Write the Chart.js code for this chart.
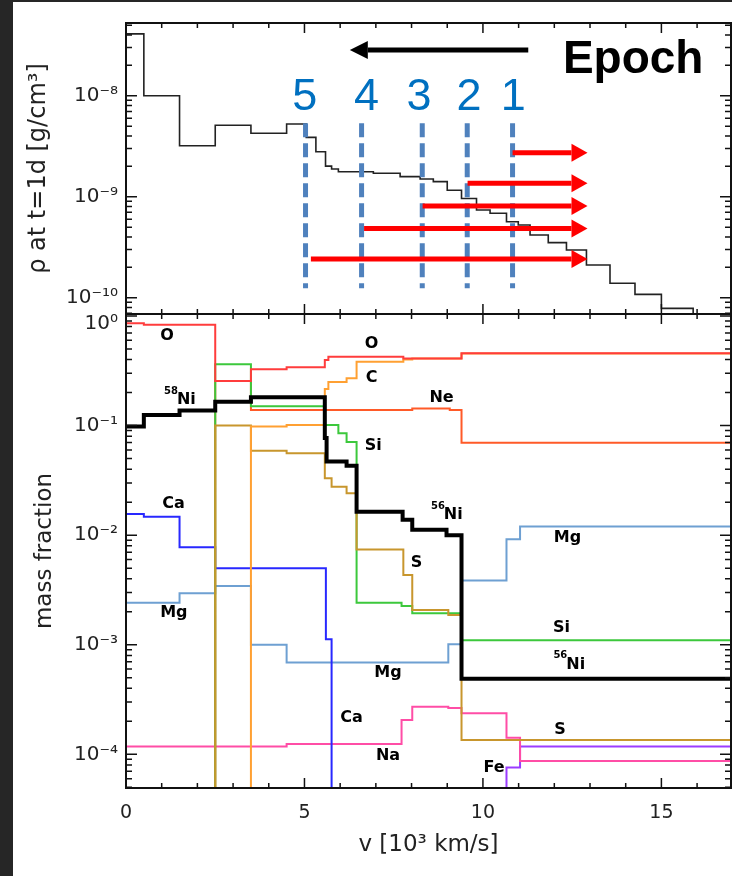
<!DOCTYPE html>
<html>
<head>
<meta charset="utf-8">
<script src="https://cdn.jsdelivr.net/npm/chart.js@4.4.1/dist/chart.umd.min.js"></script>
<style>
  html, body { margin: 0; padding: 0; width: 732px; height: 876px; overflow: hidden; background: #262626; }
  #sheet { position: absolute; left: 13px; top: 2px; width: 719px; height: 874px; background: #fff; }
  canvas { position: absolute; left: 0; }
  #densityChart { top: 0; }
  #massChart { top: 300px; }
</style>
</head>
<body>
<div id="sheet"></div>
<canvas id="densityChart" width="732" height="320"></canvas>
<canvas id="massChart" width="732" height="576"></canvas>
<script>
// axes
const velocityTicks = [0, 5, 10, 15];
const densityTicks = [1e-8, 1e-9, 1e-10];
const densityTickLabels = ['10⁻⁸', '10⁻⁹', '10⁻¹⁰'];
const massTicks = [1, 1e-1, 1e-2, 1e-3, 1e-4];
// top label sits just under the panel edge, as in the original
const massTickLabels = [['', '10⁰'], '10⁻¹', '10⁻²', '10⁻³', '10⁻⁴'];

// density at t=1d (step edges in 10^3 km/s, values in g/cm^3)
const densityEdges = [0, 0.5, 1.5, 2.5, 3.5, 4.5, 5.05, 5.32, 5.59, 5.76, 5.95, 6.93, 7.68, 8.24, 8.61, 9.0, 9.4, 9.82, 10.2, 10.66, 10.99, 11.32, 11.83, 12.34, 12.9, 13.56, 14.26, 15.0, 15.89, 16.95];
const densityValues = [4.1e-8, 1.0e-8, 3.2e-9, 5.1e-9, 4.25e-9, 5.25e-9, 3.87e-9, 2.79e-9, 2.01e-9, 1.88e-9, 1.77e-9, 1.71e-9, 1.58e-9, 1.5e-9, 1.41e-9, 1.16e-9, 9.6e-10, 7.4e-10, 6.85e-10, 5.65e-10, 5.25e-10, 4.18e-10, 3.51e-10, 2.97e-10, 2.11e-10, 1.39e-10, 1.08e-10, 7.85e-11, 5e-11];

// epochs
const epochNumbers = ['5', '4', '3', '2', '1'];
const epochNumberV = [5.01, 6.74, 8.21, 9.61, 10.85];
const epochLineV = [5.03, 6.60, 8.30, 9.56, 10.83];
const epochLineTop = 5.34e-9;
const epochLineBottom = 1.24e-10;
const arrowStart = [10.83, 9.57, 8.31, 6.67, 5.18];
const arrowLevel = [2.73e-9, 1.36e-9, 8.09e-10, 4.86e-10, 2.42e-10];
const arrowEnd = 12.93;

// mass fractions (step edges, values); 1e-8 = below the plotted range
const oEdges = [0, 0.5, 2.5, 3.5, 4.5, 5.57, 5.67, 7.77, 9.4, 16.95];
const oMass = [0.857, 0.83, 0.255, 0.326, 0.34, 0.397, 0.425, 0.41, 0.457];
const neEdges = [0, 2.5, 3.5, 8.02, 9.07, 9.4, 16.95];
const neMass = [1e-8, 0.255, 0.139, 0.143, 0.139, 0.0698];
const cEdges = [0, 3.5, 4.5, 5.57, 5.67, 6.18, 6.46, 7.77, 8.02, 9.4, 16.95];
const cMass = [1e-8, 0.098, 0.101, 0.216, 0.25, 0.27, 0.383, 0.40, 0.41, 0.455];
const sEdges = [0, 2.5, 3.5, 4.5, 5.57, 5.76, 6.18, 6.46, 7.77, 8.02, 9.03, 9.4, 16.95];
const sMass = [1e-8, 0.1, 0.059, 0.056, 0.033, 0.0277, 0.0241, 7.4e-3, 4.33e-3, 2.08e-3, 1.87e-3, 1.35e-4];
const siEdges = [0, 2.5, 3.5, 5.57, 5.95, 6.18, 6.46, 7.72, 8.02, 9.4, 16.95];
const siMass = [1e-8, 0.363, 0.15, 0.101, 0.085, 0.071, 2.42e-3, 2.26e-3, 1.94e-3, 1.1e-3];
const niEdges = [0, 0.5, 1.5, 2.5, 3.5, 5.57, 5.62, 6.18, 6.46, 7.75, 8.02, 8.98, 9.4, 16.95];
const niMass = [0.098, 0.125, 0.137, 0.165, 0.181, 0.077, 0.047, 0.043, 0.0164, 0.0138, 0.0112, 0.0100, 4.9e-4];
const caEdges = [0, 0.5, 1.5, 2.5, 5.6, 5.76, 16.95];
const caMass = [0.0156, 0.0147, 7.75e-3, 5.0e-3, 1.12e-3, 1e-8];
const mgEdges = [0, 1.5, 2.5, 3.5, 4.5, 9.03, 9.4, 10.66, 11.04, 16.95];
const mgMass = [2.42e-3, 2.95e-3, 3.44e-3, 1.0e-3, 6.9e-4, 1.01e-3, 3.85e-3, 9.2e-3, 0.012];
const naEdges = [0, 4.5, 7.72, 8.02, 9.03, 9.4, 10.66, 11.04, 16.95];
const naMass = [1.18e-4, 1.24e-4, 2.06e-4, 2.72e-4, 2.65e-4, 2.37e-4, 1.42e-4, 8.7e-5];
const feEdges = [0, 10.66, 11.04, 16.95];
const feMass = [1e-8, 7.6e-5, 1.18e-4];

// element tags in the lower panel
const tagNames = ['O', 'Ni', 'Ca', 'Mg', 'O', 'C', 'Ne', 'Si', 'Ni', 'S', 'Mg', 'Mg', 'Ca', 'Na', 'Fe', 'Si', 'Ni', 'S'];
const tagIsotopes = ['', '58', '', '', '', '', '', '', '56', '', '', '', '', '', '', '', '56', ''];
const tagV = [1.15, 1.69, 1.33, 1.34, 6.88, 6.88, 8.84, 6.93, 9.17, 8.14, 12.37, 7.34, 6.32, 7.34, 10.31, 12.2, 12.6, 12.16];
const tagFraction = [0.657, 0.171, 0.0195, 1.97e-3, 0.555, 0.27, 0.18, 0.0654, 0.0152, 5.54e-3, 9.53e-3, 5.53e-4, 2.17e-4, 9.71e-5, 7.47e-5, 1.44e-3, 6.61e-4, 1.66e-4];

const axisFont = '"DejaVu Sans", sans-serif';

function stepPoints(edges, values) {
    const pts = values.map((v, i) => ({ x: edges[i], y: v }));
    pts.push({ x: edges[edges.length - 1], y: values[values.length - 1] });
    return pts;
}

function stepLine(label, edges, values, color, width) {
    return {
        label: label,
        data: stepPoints(edges, values),
        borderColor: color,
        borderWidth: width,
        stepped: true,
        pointRadius: 0,
        fill: false
    };
}

function arrow(ctx, x0, x1, y, width, headLen, headHalf) {
    const dir = Math.sign(x1 - x0);
    const base = x1 - dir * headLen;
    ctx.lineWidth = width;
    ctx.beginPath();
    ctx.moveTo(x0, y);
    ctx.lineTo(base, y);
    ctx.stroke();
    ctx.beginPath();
    ctx.moveTo(x1, y);
    ctx.lineTo(base, y - headHalf);
    ctx.lineTo(base, y + headHalf);
    ctx.closePath();
    ctx.fill();
}

// IDL style frame with inward ticks on all four sides
const frameTicks = {
    id: 'frameTicks',
    afterDatasetsDraw(chart) {
        const { ctx, chartArea: a, scales: { x, y } } = chart;
        ctx.save();
        ctx.strokeStyle = '#111';
        ctx.lineWidth = 1.5;
        ctx.beginPath();
        for (let v = Math.ceil(x.min); v <= x.max; v++) {
            const px = x.getPixelForValue(v);
            const len = v % 5 === 0 ? 10 : 5;
            ctx.moveTo(px, a.bottom); ctx.lineTo(px, a.bottom - len);
            ctx.moveTo(px, a.top); ctx.lineTo(px, a.top + len);
        }
        const lo = Math.floor(Math.log10(y.min)), hi = Math.ceil(Math.log10(y.max));
        for (let e = lo; e <= hi; e++) {
            for (let m = 1; m <= 9; m++) {
                const v = m * Math.pow(10, e);
                if (v < y.min || v > y.max) continue;
                const py = y.getPixelForValue(v);
                const len = m === 1 ? 11 : 6;
                ctx.moveTo(a.left, py); ctx.lineTo(a.left + len, py);
                ctx.moveTo(a.right, py); ctx.lineTo(a.right - len, py);
            }
        }
        ctx.stroke();
        ctx.lineWidth = 2;
        ctx.strokeRect(a.left, a.top, a.right - a.left, a.bottom - a.top);
        ctx.restore();
    }
};

const epochMarks = {
    id: 'epochMarks',
    afterDatasetsDraw(chart) {
        const { ctx, scales: { x, y } } = chart;
        ctx.save();
        ctx.fillStyle = ctx.strokeStyle = '#ff0000';
        arrowStart.forEach((s, i) => {
            arrow(ctx, x.getPixelForValue(s), x.getPixelForValue(arrowEnd), y.getPixelForValue(arrowLevel[i]), 5, 16, 9);
        });
        ctx.fillStyle = ctx.strokeStyle = '#000';
        arrow(ctx, x.getPixelForValue(11.27), x.getPixelForValue(6.27), y.getPixelForValue(2.84e-8), 5, 18, 9);
        ctx.font = 'bold 46px "Liberation Sans", Arial, sans-serif';
        ctx.textAlign = 'left';
        ctx.textBaseline = 'alphabetic';
        ctx.fillText('Epoch', x.getPixelForValue(12.24), y.getPixelForValue(1.68e-8));
        ctx.fillStyle = '#0070c0';
        ctx.font = '45px "Liberation Sans", Arial, sans-serif';
        ctx.textAlign = 'center';
        epochNumbers.forEach((n, i) => {
            ctx.fillText(n, x.getPixelForValue(epochNumberV[i]), y.getPixelForValue(7.21e-9));
        });
        ctx.restore();
    }
};

const elementTags = {
    id: 'elementTags',
    afterDatasetsDraw(chart) {
        const { ctx, scales: { x, y } } = chart;
        ctx.save();
        ctx.fillStyle = '#000';
        tagNames.forEach((name, i) => {
            const px = x.getPixelForValue(tagV[i]);
            const py = y.getPixelForValue(tagFraction[i]);
            ctx.font = 'bold 16px ' + axisFont;
            ctx.textAlign = 'center';
            ctx.textBaseline = 'middle';
            ctx.fillText(name, px, py);
            if (tagIsotopes[i]) {
                const w = ctx.measureText(name).width;
                ctx.font = 'bold 10px ' + axisFont;
                ctx.textAlign = 'right';
                ctx.textBaseline = 'alphabetic';
                ctx.fillText(tagIsotopes[i], px - w / 2 + 1, py - 6);
            }
        });
        ctx.restore();
    }
};

function fixWidth(w) {
    return scale => {
        scale.width = w;
        scale.paddingTop = 0;
        scale.paddingBottom = 0;
    };
}

function logAxis(min, max, ticks, labels, title, titlePad, titleSize) {
    return {
        type: 'logarithmic',
        min: min,
        max: max,
        grid: { display: false, drawTicks: false },
        border: { display: false },
        afterBuildTicks: scale => { scale.ticks = ticks.map(v => ({ value: v })); },
        afterFit: fixWidth(126),
        ticks: {
            autoSkip: false,
            padding: 8,
            color: '#222',
            font: { family: axisFont, size: 20, lineHeight: 0.75 },
            callback: v => labels[ticks.indexOf(v)]
        },
        title: {
            display: true,
            text: title,
            color: '#222',
            padding: { top: titlePad, bottom: 0 },
            font: { family: axisFont, size: titleSize }
        }
    };
}

const densityChart = new Chart(document.getElementById('densityChart'), {
    type: 'line',
    data: {
        datasets: [
            ...epochLineV.map(v => ({
                label: 'epoch',
                data: [{ x: v, y: epochLineTop }, { x: v, y: epochLineBottom }],
                borderColor: '#4f81bd',
                borderWidth: 5,
                borderDash: [14, 6],
                pointRadius: 0
            })),
            stepLine('density', densityEdges, densityValues, '#222', 1.6)
        ]
    },
    options: {
        responsive: false,
        animation: false,
        layout: { padding: { top: 23, right: 1, bottom: 6, left: 0 } },
        plugins: { legend: { display: false }, tooltip: { enabled: false } },
        scales: {
            x: { type: 'linear', min: 0, max: 16.95, display: false },
            y: logAxis(6.9e-11, 5.25e-8, densityTicks, densityTickLabels, 'ρ at t=1d [g/cm³]', 24, 24)
        }
    },
    plugins: [frameTicks, epochMarks]
});

const massChart = new Chart(document.getElementById('massChart'), {
    type: 'line',
    data: {
        datasets: [
            stepLine('56Ni', niEdges, niMass, '#000', 4),
            stepLine('O', oEdges, oMass, '#ff3c3c', 2),
            stepLine('C', cEdges, cMass, '#ffa032', 2),
            stepLine('S', sEdges, sMass, '#c8962d', 2),
            stepLine('Si', siEdges, siMass, '#3cc83c', 2),
            stepLine('Ne', neEdges, neMass, '#ff5a28', 2),
            stepLine('Ca', caEdges, caMass, '#2828ff', 2),
            stepLine('Mg', mgEdges, mgMass, '#6ea0d2', 2),
            stepLine('Na', naEdges, naMass, '#ff4da6', 2),
            stepLine('Fe', feEdges, feMass, '#9b3cff', 2)
        ]
    },
    options: {
        responsive: false,
        animation: false,
        layout: { padding: { top: 14, right: 1, bottom: 0, left: 0 } },
        plugins: { legend: { display: false }, tooltip: { enabled: false } },
        scales: {
            x: {
                type: 'linear',
                min: 0,
                max: 16.95,
                grid: { display: false, drawTicks: false },
                border: { display: false },
                afterBuildTicks: scale => { scale.ticks = velocityTicks.map(v => ({ value: v })); },
                afterFit: scale => {
                    scale.height = 88;
                    scale.paddingLeft = 0;
                    scale.paddingRight = 0;
                },
                ticks: {
                    autoSkip: false,
                    maxRotation: 0,
                    padding: 14,
                    color: '#222',
                    font: { family: axisFont, size: 19 },
                    callback: v => String(v)
                },
                title: {
                    display: true,
                    text: 'v [10³ km/s]',
                    color: '#222',
                    padding: { top: 0, bottom: 17 },
                    font: { family: axisFont, size: 23 }
                }
            },
            y: logAxis(4.93e-5, 1.043, massTicks, massTickLabels, 'mass fraction', 31, 23)
        }
    },
    plugins: [frameTicks, elementTags]
});
</script>
</body>
</html>
